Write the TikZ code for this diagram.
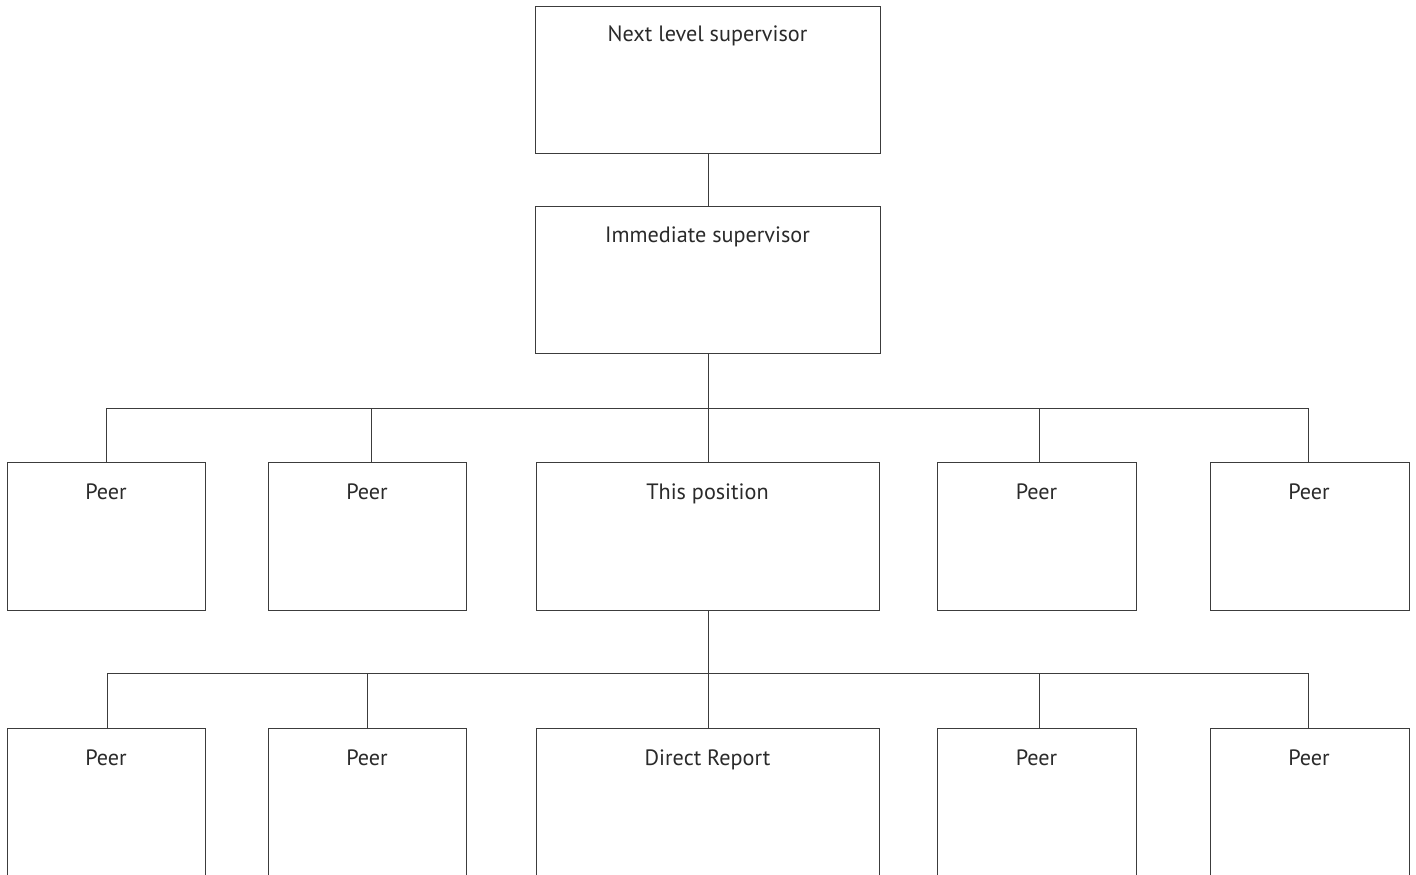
\documentclass[tikz,border=0pt]{standalone}
\usepackage{fontspec}
\setmainfont{PT Sans}
\begin{document}
\begin{tikzpicture}[x=1pt,y=-1pt,
  box/.style={draw=linec, line width=1pt, fill=none, inner sep=0pt, anchor=north west},
  lbl/.style={anchor=base, inner sep=0pt, font=\fontsize{22.2}{27}\selectfont, text=textc},
  conn/.style={draw=linec, line width=1pt}]
\definecolor{linec}{HTML}{3C3C3C}
\definecolor{textc}{HTML}{2A2A2A}
\useasboundingbox (0,0) rectangle (1416,875);
\clip (0,0) rectangle (1416,875);
% top boxes
\node[box, minimum width=345pt, minimum height=147pt] (next) at (535,6) {};
\node[box, minimum width=345pt, minimum height=147pt] (imm) at (535,206) {};
\node[lbl] (tnext) at (707.5,42) {Next level supervisor};
\node[lbl] (timm) at (707.5,242) {Immediate supervisor};
% row 1
\node[box, minimum width=198pt, minimum height=148pt] (a1) at (7,462) {};
\node[box, minimum width=198pt, minimum height=148pt] (a2) at (268,462) {};
\node[box, minimum width=343pt, minimum height=148pt] (a3) at (536,462) {};
\node[box, minimum width=199pt, minimum height=148pt] (a4) at (937,462) {};
\node[box, minimum width=199pt, minimum height=148pt] (a5) at (1210,462) {};
\node[lbl] (ta1) at (106,499) {Peer};
\node[lbl] (ta2) at (367,499) {Peer};
\node[lbl] (ta3) at (707.5,499) {This position};
\node[lbl] (ta4) at (1036.5,499) {Peer};
\node[lbl] (ta5) at (1309,499) {Peer};
% row 2
\node[box, minimum width=198pt, minimum height=160pt] (b1) at (7,728) {};
\node[box, minimum width=198pt, minimum height=160pt] (b2) at (268,728) {};
\node[box, minimum width=343pt, minimum height=160pt] (b3) at (536,728) {};
\node[box, minimum width=199pt, minimum height=160pt] (b4) at (937,728) {};
\node[box, minimum width=199pt, minimum height=160pt] (b5) at (1210,728) {};
\node[lbl] (tb1) at (106,765) {Peer};
\node[lbl] (tb2) at (367,765) {Peer};
\node[lbl] (tb3) at (707.5,765) {Direct Report};
\node[lbl] (tb4) at (1036.5,765) {Peer};
\node[lbl] (tb5) at (1309,765) {Peer};
% bus coordinates
\coordinate (u1) at (106.5,408);
\coordinate (u2) at (371,408);
\coordinate (u3) at (707.5,408);
\coordinate (u4) at (1039,408);
\coordinate (u5) at (1308,408);
\coordinate (v1) at (107,673);
\coordinate (v2) at (367,673);
\coordinate (v3) at (707.5,673);
\coordinate (v4) at (1039,673);
\coordinate (v5) at (1308,673);
% connectors
\draw[conn] (next.south) -- (imm.north);
\draw[conn] (imm.south) -- (a3.north);
\draw[conn] (u1) -- (u5);
\draw[conn] (u1) -- (u1 |- a1.north);
\draw[conn] (u2) -- (u2 |- a2.north);
\draw[conn] (u4) -- (u4 |- a4.north);
\draw[conn] (u5) -- (u5 |- a5.north);
\draw[conn] (a3.south) -- (b3.north);
\draw[conn] (v1) -- (v5);
\draw[conn] (v1) -- (v1 |- b1.north);
\draw[conn] (v2) -- (v2 |- b2.north);
\draw[conn] (v4) -- (v4 |- b4.north);
\draw[conn] (v5) -- (v5 |- b5.north);
\end{tikzpicture}
\end{document}
